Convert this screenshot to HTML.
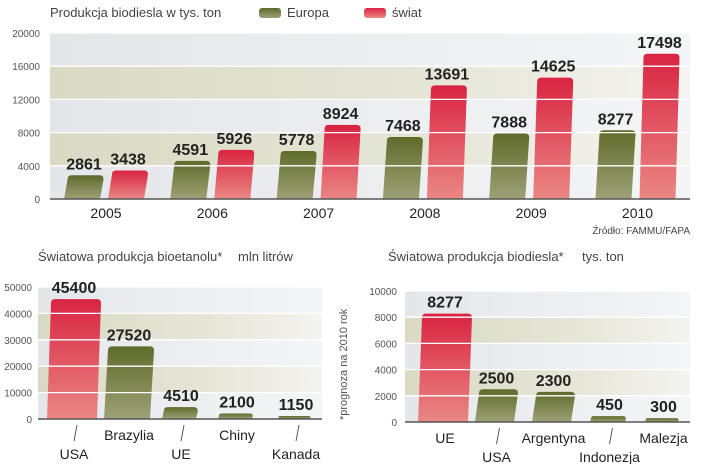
<!DOCTYPE html>
<html><head><meta charset="utf-8">
<style>
html,body{margin:0;padding:0;background:#fff;width:720px;height:464px;overflow:hidden}
svg{display:block;font-family:"Liberation Sans",sans-serif}
.t{fill:#444;font-size:13px}
.tick{fill:#555;font-size:10px}
.val{fill:#222;font-size:16px;font-weight:bold}
.cat{fill:#222;font-size:14px}
</style></head>
<body>
<svg id="c" width="720" height="464" viewBox="0 0 720 464">
<defs>
<linearGradient id="bg" x1="0" x2="1" y1="0" y2="0"><stop offset="0" stop-color="#e4e6ea"/><stop offset="1" stop-color="#f4f5f6"/></linearGradient>
<linearGradient id="band" x1="0" x2="1" y1="0" y2="0"><stop offset="0" stop-color="#d9d9c4"/><stop offset="0.6" stop-color="#e6e6d8"/><stop offset="1" stop-color="#f4f4f0"/></linearGradient>
<linearGradient id="red" x1="0" x2="0" y1="0" y2="1"><stop offset="0" stop-color="#d92441"/><stop offset="1" stop-color="#ea8784"/></linearGradient>
<linearGradient id="olive" x1="0" x2="0" y1="0" y2="1"><stop offset="0" stop-color="#5f6b2b"/><stop offset="1" stop-color="#9ea176"/></linearGradient>
</defs>
<g id="top"></g>
<g id="bl"></g>
<g id="br"></g>
</svg>
<script>
const years = ["2005","2006","2007","2008","2009","2010"];
const europa = [2861,4591,5778,7468,7888,8277];
const swiat = [3438,5926,8924,13691,14625,17498];
const topTicks = [0,4000,8000,12000,16000,20000];
const ethCats = ["USA","Brazylia","UE","Chiny","Kanada"];
const ethVals = [45400,27520,4510,2100,1150];
const ethTicks = [0,10000,20000,30000,40000,50000];
const dieCats = ["UE","USA","Argentyna","Indonezja","Malezja"];
const dieVals = [8277,2500,2300,450,300];
const dieTicks = [0,2000,4000,6000,8000,10000];

const NS="http://www.w3.org/2000/svg";
function mk(p,tag,a,txt){const e=document.createElementNS(NS,tag);for(const k in a)e.setAttribute(k,a[k]);if(txt!==undefined)e.textContent=txt;p.appendChild(e);return e;}
function barPath(x0,w,yb,yt){const s=Math.min(4,(yb-yt)*0.15),r=Math.min(4,(yb-yt)/2);
 return `M${x0},${yb} L${x0+s},${yt+r} Q${x0+s},${yt} ${x0+s+r},${yt} L${x0+s+w-r},${yt} Q${x0+s+w},${yt} ${x0+s+w},${yt+r} L${x0+w},${yb} Z`;}

function frame(g,x0,x1,y,ticks,max,bands,labelX){
 const yT=y(max);
 let e=mk(g,'rect',{x:x0,y:yT,width:x1-x0,height:y(0)-yT,fill:'url(#bg)'});
 
 
 bands.forEach(b=>{const r=mk(g,'rect',{x:x0,y:y(b[1]),width:x1-x0,height:y(b[0])-y(b[1]),fill:'url(#band)'});
  
  });
 ticks.forEach(t=>{const tx=mk(g,'text',{x:labelX,y:y(t)+4,'text-anchor':'end',class:'tick'},t);
  
  });
}
function gridOver(g,x0,x1,y,ticks){ticks.forEach(t=>{if(t>0){const l=mk(g,'line',{x1:x0,x2:x1,y1:y(t),y2:y(t),stroke:'#fff','stroke-width':1.3});
 
 }});}

// TOP
(function(){
 const g=document.getElementById('top');
 const y=v=>199-v*(166/20000);
 let t=mk(g,'text',{x:50,y:17,class:'t'},'Produkcja biodiesla w tys. ton');
 
 
 let lg=mk(g,'rect',{x:259,y:8,width:22,height:10,rx:3,fill:'url(#olive)'});
 
 
 t=mk(g,'text',{x:287,y:17,class:'t'},'Europa');
 
 
 lg=mk(g,'rect',{x:364,y:8,width:22,height:10,rx:3,fill:'url(#red)'});
 
 
 t=mk(g,'text',{x:392,y:17,class:'t'},'świat');
 
 
 frame(g,50,690,y,topTicks,20000,[[12000,16000],[4000,8000]],40);
 years.forEach((yr,i)=>{
  const gx=64+i*106.3;
  [[europa[i],'url(#olive)',0,'bar-europa-'+yr],[swiat[i],'url(#red)',44,'bar-swiat-'+yr]].forEach(([v,f,off,nm])=>{
   const p=mk(g,'path',{d:barPath(gx+off,36,y(0),y(v)),fill:f});
   
   
  });
 });
 gridOver(g,50,690,y,topTicks);
 years.forEach((yr,i)=>{
  const gx=64+i*106.3;
  [[europa[i],0,'value-europa-'+yr],[swiat[i],44,'value-swiat-'+yr]].forEach(([v,off,nm])=>{
   const tx=mk(g,'text',{x:gx+off+20,y:y(v)-6,'text-anchor':'middle',class:'val'},v);
   
   
  });
  const c=mk(g,'text',{x:gx+42,y:218,'text-anchor':'middle',class:'cat'},yr);
  
  
 });
 const ax=mk(g,'line',{x1:50,x2:690,y1:199,y2:199,stroke:'#555','stroke-width':1.5});
 
 
 t=mk(g,'text',{x:690,y:234,'text-anchor':'end',fill:'#444','font-size':10},'Źródło: FAMMU/FAPA');
 
 
})();

function small(id,title,unit,unitX,cats,vals,ticks,max,bands,x0,x1,y0,yMax,barX,barW,colors,labelX,titleX,lowParity){
 const g=document.getElementById(id);
 const y=v=>y0-v*((y0-yMax)/max);
 let t=mk(g,'text',{x:titleX,y:261,class:'t'},title);
 
 
 t=mk(g,'text',{x:unitX,y:261,class:'t'},unit);
 
 
 frame(g,x0,x1,y,ticks,max,bands,labelX);
 cats.forEach((c,i)=>{
  const p=mk(g,'path',{d:barPath(barX[i],barW[i],y(0),y(vals[i])),fill:colors[i]});
  
  
 });
 gridOver(g,x0,x1,y,ticks);
 cats.forEach((c,i)=>{
  const cx=barX[i]+barW[i]/2+2;
  const tx=mk(g,'text',{x:cx,y:y(vals[i])-6,'text-anchor':'middle',class:'val'},vals[i]);
  
  
  const low=i%2===lowParity;
  if(low){const l=mk(g,'line',{x1:cx+3,y1:y0+6,x2:cx,y2:y0+22,stroke:'#555','stroke-width':1});
   
   }
  const lt=mk(g,'text',{x:cx,y:low?y0+40:y0+21,'text-anchor':'middle',class:'cat'},c);
  
  
 });
 const ax=mk(g,'line',{x1:x0,x2:x1,y1:y0,y2:y0,stroke:'#555','stroke-width':1.5});
 
 
}
small('bl','Światowa produkcja bioetanolu*','mln litrów',238,ethCats,ethVals,ethTicks,50000,[[30000,40000],[10000,20000]],38,322,419,287,
 [47,104,162,218,278],[50,46,34,34,32],['url(#red)','url(#olive)','url(#olive)','url(#olive)','url(#olive)'],32,38,0);
small('br','Światowa produkcja biodiesla*','tys. ton',582,dieCats,dieVals,dieTicks,10000,[[6000,8000],[2000,4000]],405,690,422,291,
 [418,475,532,590,645],[50,39,39,35,33],['url(#red)','url(#olive)','url(#olive)','url(#olive)','url(#olive)'],397,388,1);
(function(){
 const g=document.getElementById('br');
 const t=mk(g,'text',{x:0,y:0,fill:'#555','font-size':11,transform:'translate(347,420) rotate(-90)'},'*prognoza na 2010 rok');
 
 
})();
</script>
</body></html>
